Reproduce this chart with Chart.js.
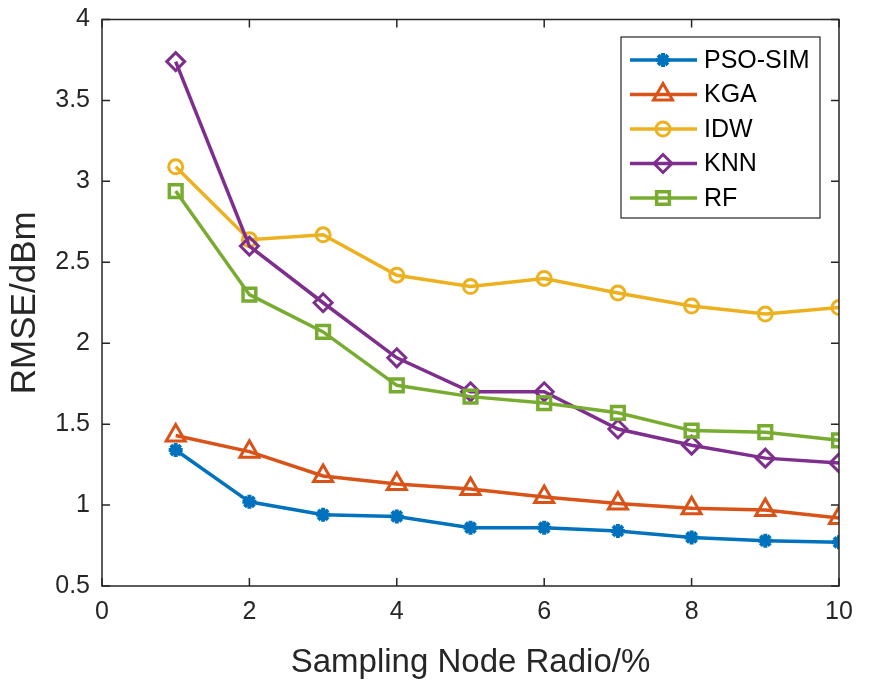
<!DOCTYPE html>
<html>
<head>
<meta charset="utf-8">
<script src="https://cdn.jsdelivr.net/npm/chart.js@4.4.1/dist/chart.umd.min.js"></script>
<style>
  body { margin: 0; background: #fff; }
  canvas { display: block; }
</style>
</head>
<body>
<canvas id="rmseChart" width="869" height="689"></canvas>
<script>
// values
var ratios = [1, 2, 3, 4, 5, 6, 7, 8, 9, 10];
var psoSim = [1.34, 1.02, 0.94, 0.93, 0.86, 0.86, 0.84, 0.80, 0.78, 0.77];
var kga    = [1.43, 1.33, 1.18, 1.13, 1.10, 1.05, 1.01, 0.98, 0.97, 0.92];
var idw    = [3.09, 2.64, 2.67, 2.42, 2.35, 2.40, 2.31, 2.23, 2.18, 2.22];
var knn    = [3.74, 2.60, 2.25, 1.91, 1.70, 1.70, 1.47, 1.37, 1.29, 1.26];
var rf     = [2.94, 2.30, 2.07, 1.74, 1.67, 1.63, 1.57, 1.46, 1.45, 1.40];
var xTicks = [0, 2, 4, 6, 8, 10];
var yTicks = [0.5, 1, 1.5, 2, 2.5, 3, 3.5, 4];

var FONT = '"Liberation Sans", Arial, sans-serif';
var AXIS = '#262626';

function series(label, values, color, style, radius, pw, order) {
    return {
        label: label,
        data: values.map(function (v, i) { return { x: ratios[i], y: v }; }),
        borderColor: color,
        backgroundColor: color,
        borderWidth: 3.5,
        pointStyle: style,
        pointRadius: radius,
        pointBorderWidth: pw,
        pointBorderColor: color,
        pointBackgroundColor: 'rgba(0,0,0,0)',
        tension: 0,
        order: order
    };
}

var datasets = [
    series('PSO-SIM', psoSim, '#0072BD', 'star', 7, 4, 4),
    series('KGA', kga, '#D95319', 'triangle', 11, 3, 3),
    series('IDW', idw, '#EDB120', 'circle', 7, 3, 2),
    series('KNN', knn, '#7E2F8E', 'rectRot', 9, 3, 1),
    series('RF', rf, '#77AC30', 'rect', 9, 3.5, 0)
];

// axis box with inward ticks on all four sides
var frame = {
    id: 'frame',
    afterDatasetsDraw: function (chart) {
        var ctx = chart.ctx, a = chart.chartArea;
        var x = chart.scales.x, y = chart.scales.y;
        var len = 8;
        ctx.save();
        ctx.strokeStyle = AXIS;
        ctx.lineWidth = 1.5;
        ctx.strokeRect(a.left, a.top, a.right - a.left, a.bottom - a.top);
        ctx.beginPath();
        xTicks.forEach(function (v) {
            var px = x.getPixelForValue(v);
            ctx.moveTo(px, a.bottom); ctx.lineTo(px, a.bottom - len);
            ctx.moveTo(px, a.top); ctx.lineTo(px, a.top + len);
        });
        yTicks.forEach(function (v) {
            var py = y.getPixelForValue(v);
            ctx.moveTo(a.left, py); ctx.lineTo(a.left + len, py);
            ctx.moveTo(a.right, py); ctx.lineTo(a.right - len, py);
        });
        ctx.stroke();
        ctx.restore();
    }
};

function drawMarker(ctx, style, cx, cy, r) {
    ctx.beginPath();
    if (style === 'circle') {
        ctx.arc(cx, cy, r, 0, Math.PI * 2);
    } else if (style === 'triangle') {
        for (var i = 0; i < 3; i++) {
            var ang = i * 2 * Math.PI / 3;
            var px = cx + Math.sin(ang) * r, py = cy - Math.cos(ang) * r;
            if (i === 0) ctx.moveTo(px, py); else ctx.lineTo(px, py);
        }
        ctx.closePath();
    } else if (style === 'rectRot') {
        ctx.moveTo(cx, cy - r); ctx.lineTo(cx + r, cy);
        ctx.lineTo(cx, cy + r); ctx.lineTo(cx - r, cy);
        ctx.closePath();
    } else if (style === 'rect') {
        var s = r * Math.SQRT1_2;
        ctx.rect(cx - s, cy - s, 2 * s, 2 * s);
    } else if (style === 'star') {
        for (var k = 0; k < 4; k++) {
            var t = k * Math.PI / 4;
            ctx.moveTo(cx - Math.cos(t) * r, cy - Math.sin(t) * r);
            ctx.lineTo(cx + Math.cos(t) * r, cy + Math.sin(t) * r);
        }
    }
    ctx.stroke();
}

// MATLAB style legend box in the top right corner
var boxLegend = {
    id: 'boxLegend',
    afterDraw: function (chart) {
        var ctx = chart.ctx;
        var left = 621, top = 37, w = 199, h = 181;
        ctx.save();
        ctx.fillStyle = '#fff';
        ctx.fillRect(left, top, w, h);
        ctx.strokeStyle = AXIS;
        ctx.lineWidth = 1.2;
        ctx.strokeRect(left, top, w, h);
        ctx.font = '25px ' + FONT;
        ctx.textBaseline = 'middle';
        chart.data.datasets.forEach(function (ds, i) {
            var cy = 60 + i * 34.5;
            ctx.strokeStyle = ds.borderColor;
            ctx.lineWidth = 3.5;
            ctx.beginPath();
            ctx.moveTo(630, cy); ctx.lineTo(697, cy);
            ctx.stroke();
            ctx.lineWidth = ds.pointBorderWidth;
            drawMarker(ctx, ds.pointStyle, 663, cy, ds.pointRadius);
            ctx.fillStyle = '#000';
            ctx.fillText(ds.label, 704, cy + 1);
        });
        ctx.restore();
    }
};

new Chart(document.getElementById('rmseChart'), {
    type: 'line',
    data: { datasets: datasets },
    options: {
        responsive: false,
        animation: false,
        layout: { padding: { top: 19.5, right: 30, left: 0, bottom: 0 } },
        plugins: {
            legend: { display: false },
            tooltip: { enabled: false }
        },
        scales: {
            x: {
                type: 'linear',
                min: 0,
                max: 10,
                afterFit: function (scale) {
                    scale.height = 103;
                    scale.paddingLeft = 0;
                    scale.paddingRight = 0;
                },
                afterBuildTicks: function (scale) {
                    scale.ticks = xTicks.map(function (v) { return { value: v }; });
                },
                grid: { display: false, drawTicks: false },
                border: { display: false },
                ticks: {
                    color: AXIS, padding: 11, font: { family: FONT, size: 25 },
                    callback: function (v) { return String(v); }
                },
                title: {
                    display: true,
                    text: 'Sampling Node Radio/%',
                    color: AXIS,
                    padding: { top: 0, bottom: 6 },
                    font: { family: FONT, size: 33 }
                }
            },
            y: {
                type: 'linear',
                min: 0.5,
                max: 4,
                afterFit: function (scale) {
                    scale.width = 102;
                    scale.paddingTop = 0;
                    scale.paddingBottom = 0;
                },
                afterBuildTicks: function (scale) {
                    scale.ticks = yTicks.map(function (v) { return { value: v }; });
                },
                grid: { display: false, drawTicks: false },
                border: { display: false },
                ticks: {
                    color: AXIS, padding: 12, font: { family: FONT, size: 25 },
                    callback: function (v) { return String(v); }
                },
                title: {
                    display: true,
                    text: 'RMSE/dBm',
                    color: AXIS,
                    padding: { top: 4, bottom: 0 },
                    font: { family: FONT, size: 35 }
                }
            }
        }
    },
    plugins: [frame, boxLegend]
});
</script>
</body>
</html>
